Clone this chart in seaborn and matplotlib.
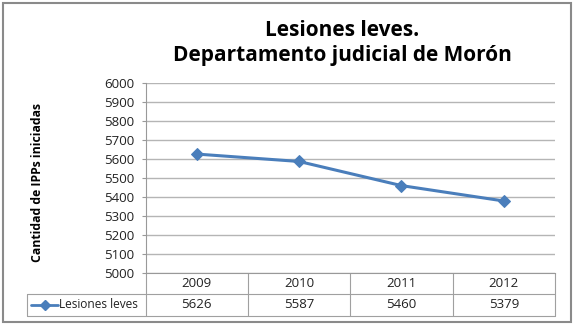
import matplotlib
matplotlib.use("Agg")
import matplotlib.pyplot as plt
import seaborn as sns
import pandas as pd
from matplotlib.patches import Rectangle

years = ["2009", "2010", "2011", "2012"]
values = [5626, 5587, 5460, 5379]
series_name = "Lesiones leves"
title_lines = ["Lesiones leves.", "Departamento judicial de Morón"]
ylabel = "Cantidad de IPPs iniciadas"
yticks = list(range(5000, 6001, 100))

sns.set_theme(style="white")
plt.rcParams['font.family'] = ['Open Sans', 'DejaVu Sans']

W, H = 582, 325
fig = plt.figure(figsize=(W / 100, H / 100), dpi=100)
L, R, T, B = 145.5, 555, 83, 273
ax = fig.add_axes([L / W, 1 - B / H, (R - L) / W, (B - T) / H])

df = pd.DataFrame({"x": range(len(years)), "y": values})
color = "#4a7ebb"
sns.lineplot(data=df, x="x", y="y", ax=ax, color=color, marker="D",
             markersize=6, markeredgecolor=color, linewidth=2.2)

ax.set_xlim(-0.5, len(years) - 0.5)
ax.set_ylim(5000, 6000)
ax.set_yticks(yticks)
ax.set_yticklabels([str(v) for v in yticks], fontsize=9.5, color="#222222")
ax.set_xticks([])
ax.set_xlabel("")
ax.set_ylabel("")
ax.grid(axis="y", color="#b5b5b5", linewidth=1)
ax.tick_params(axis="y", length=3, width=0.8, color="#999999", pad=5, left=True)
for s in ["top", "right"]:
    ax.spines[s].set_visible(False)
ax.spines["left"].set_color("#999999")
ax.spines["bottom"].set_color("#999999")
ax.spines["left"].set_linewidth(0.8)
ax.spines["bottom"].set_linewidth(0.8)

# data table below
line_kw = dict(color="#a0a0a0", linewidth=0.8, clip_on=False)
row1_bot, row2_bot = 294, 316
def ay(py):
    return (H - py - (H - B)) / (B - T)
tr_x = ax.get_xaxis_transform()
n = len(years)
for i in range(n + 1):
    ax.plot([i - 0.5, i - 0.5], [0, ay(row2_bot)], transform=tr_x, **line_kw)
for py in [row1_bot, row2_bot]:
    ax.plot([-0.5, n - 0.5], [ay(py), ay(py)], transform=tr_x, **line_kw)
for i, (yr, v) in enumerate(zip(years, values)):
    ax.text(i, ay((B + row1_bot) / 2), yr, transform=tr_x, ha="center", va="center",
            fontsize=9.5, color="#222222")
    ax.text(i, ay((row1_bot + row2_bot) / 2), str(v), transform=tr_x, ha="center",
            va="center", fontsize=9.5, color="#222222")

# legend cell (figure coords)
def fx(px):
    return px / W
def fy(py):
    return 1 - py / H
lc_left = 27
fig.add_artist(plt.Line2D([fx(lc_left), fx(L)], [fy(row1_bot), fy(row1_bot)], color="#a0a0a0", linewidth=0.8))
fig.add_artist(plt.Line2D([fx(lc_left), fx(L)], [fy(row2_bot), fy(row2_bot)], color="#a0a0a0", linewidth=0.8))
fig.add_artist(plt.Line2D([fx(lc_left), fx(lc_left)], [fy(row1_bot), fy(row2_bot)], color="#a0a0a0", linewidth=0.8))
ymid = fy((row1_bot + row2_bot) / 2)
fig.add_artist(plt.Line2D([fx(31), fx(58)], [ymid, ymid], color=color, linewidth=2))
fig.add_artist(plt.Line2D([fx(44.5)], [ymid], color=color, marker="D", markersize=5, linestyle=""))
fig.text(fx(59), ymid, series_name, ha="left", va="center", fontsize=8.6, color="#222222")

# title
fig.text(fx(342), fy(31), title_lines[0], ha="center", va="center", fontsize=15,
         fontweight="bold", color="black")
fig.text(fx(342), fy(55), title_lines[1], ha="center", va="center", fontsize=15,
         fontweight="bold", color="black")

# y label
fig.text(fx(38), fy(183), ylabel, rotation=90, ha="center", va="center",
         fontsize=8.8, fontweight="bold", color="black")

# outer border
fig.add_artist(Rectangle((fx(2.5), fy(321.5)), fx(571) - fx(2.5), fy(2.5) - fy(321.5),
                         fill=False, edgecolor="#8a8a8a", linewidth=1.5,
                         transform=fig.transFigure))

fig.savefig("out.png", dpi=100)
